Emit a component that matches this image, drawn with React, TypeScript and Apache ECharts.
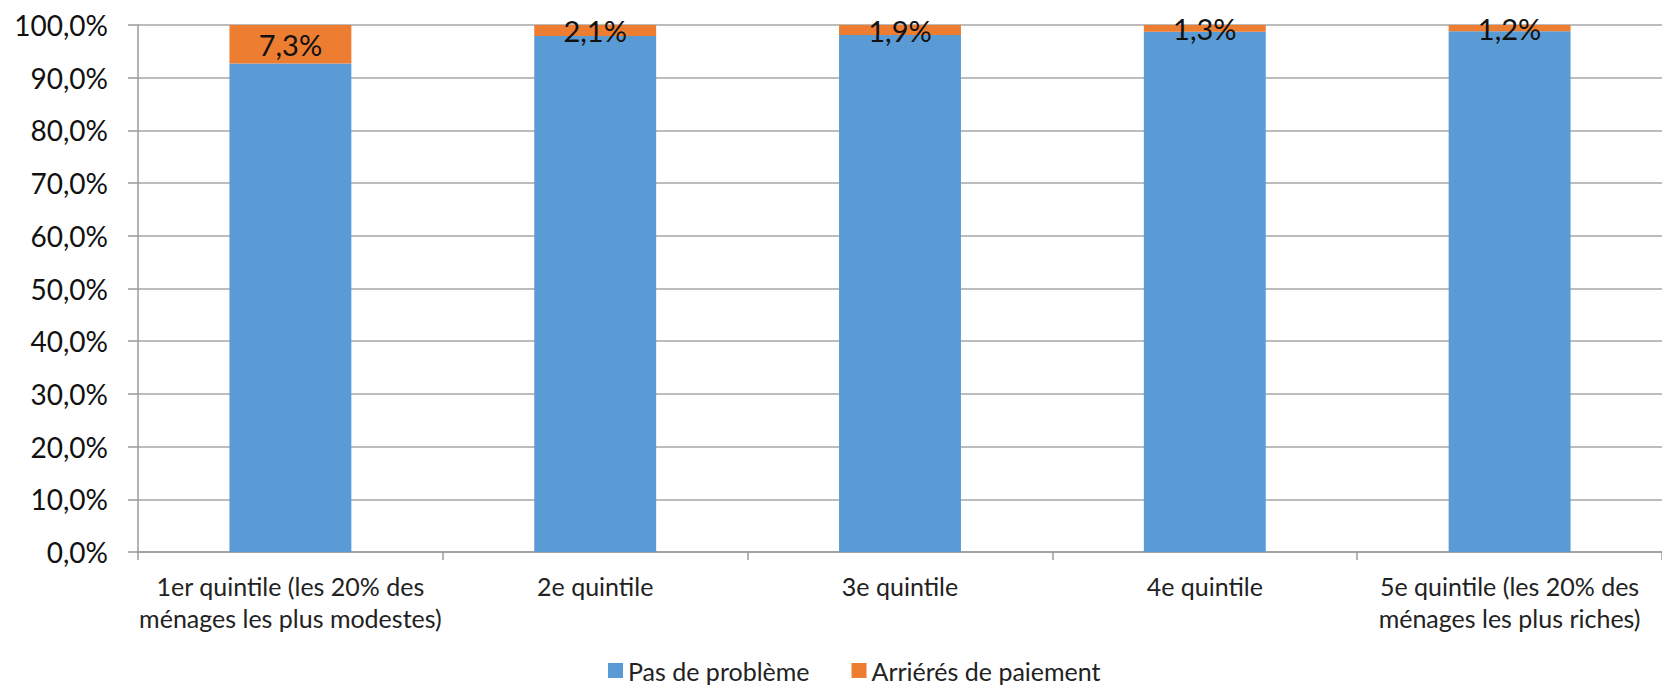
import React, { useEffect, useRef } from "react";
import * as echarts from "echarts";

const categories = [
  "1er quintile (les 20% des\nménages les plus modestes)",
  "2e quintile",
  "3e quintile",
  "4e quintile",
  "5e quintile (les 20% des\nménages les plus riches)",
];
const pasDeProbleme = [92.7, 97.9, 98.1, 98.7, 98.8];
const arrieres = [7.3, 2.1, 1.9, 1.3, 1.2];
const seriesNames = ["Pas de problème", "Arriérés de paiement"];

const FONT = "Lato, 'Noto Sans', sans-serif";
const fmt = (v: number) => v.toFixed(1).replace(".", ",") + "%";

export default function App() {
  const ref = useRef<HTMLDivElement>(null);
  useEffect(() => {
    if (!ref.current) return;
    const chart = echarts.init(ref.current, undefined, { renderer: "svg" });
    chart.setOption({
      animation: false,
      textStyle: { fontFamily: FONT },
      grid: { left: 138, top: 25, bottom: 135, right: -11 },
      legend: {
        data: seriesNames,
        left: 603,
        top: 653,
        itemWidth: 15,
        itemHeight: 15,
        itemGap: 42,
        icon: "rect",
        textStyle: { fontFamily: FONT, fontSize: 25, color: "#222" },
      },
      xAxis: {
        type: "category",
        data: categories,
        axisLine: { lineStyle: { color: "#9a9a9a", width: 1.5 } },
        axisTick: { show: true, length: 8, lineStyle: { color: "#9a9a9a", width: 1.5 } },
        axisLabel: {
          fontFamily: FONT,
          fontSize: 25,
          color: "#222",
          lineHeight: 32,
          margin: 18,
          interval: 0,
        },
      },
      yAxis: {
        type: "value",
        min: 0,
        max: 100,
        interval: 10,
        axisLine: { show: true, lineStyle: { color: "#9a9a9a", width: 1.5 } },
        axisTick: { show: true, length: 10, lineStyle: { color: "#9a9a9a", width: 1.5 } },
        splitLine: { lineStyle: { color: "#a6a6a6", width: 1.5 } },
        axisLabel: {
          fontFamily: FONT,
          fontSize: 28,
          color: "#111",
          margin: 30,
          formatter: (v: number) => fmt(v),
        },
      },
      series: [
        {
          name: seriesNames[0],
          type: "bar",
          stack: "total",
          data: pasDeProbleme,
          barWidth: "40%",
          itemStyle: { color: "#5B9BD5" },
        },
        {
          name: seriesNames[1],
          type: "bar",
          stack: "total",
          data: arrieres,
          barWidth: "40%",
          itemStyle: { color: "#ED7D31" },
          label: {
            show: true,
            position: "inside",
            fontFamily: FONT,
            fontSize: 29,
            color: "#111",
            formatter: (p: any) => fmt(p.value),
          },
        },
      ],
    });
    return () => chart.dispose();
  }, []);
  return (
    <div
      ref={ref}
      style={{ position: "fixed", left: 0, top: 0, width: 1662, height: 687, background: "#fff" }}
    />
  );
}
